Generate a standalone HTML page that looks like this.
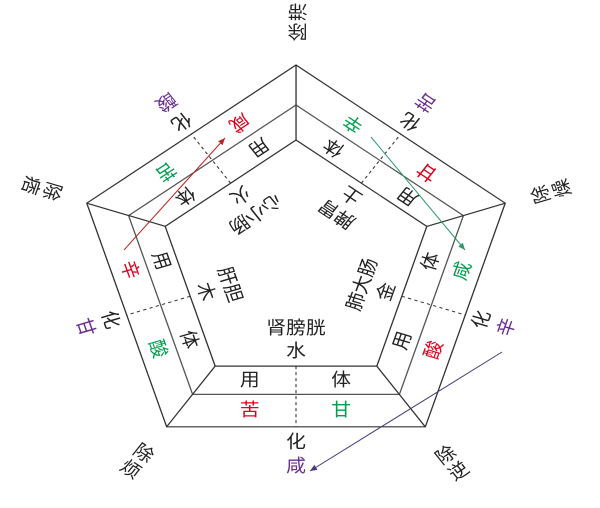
<!DOCTYPE html>
<html><head><meta charset="utf-8"><style>
html,body{margin:0;padding:0;background:#fff;}
svg{display:block;}
text{font-family:"Liberation Sans","Noto Sans CJK SC",sans-serif;font-size:18px;text-anchor:middle;dominant-baseline:central;fill:#222;}
.r{fill:#e0001b}.g{fill:#00a050}.p{fill:#6a2c91}
</style></head><body>
<svg width="600" height="508" viewBox="0 0 600 508" xmlns="http://www.w3.org/2000/svg">
<defs>
<marker id="ar" markerWidth="8" markerHeight="8" refX="7" refY="4" orient="auto" markerUnits="userSpaceOnUse"><path d="M0,1 L7,4 L0,7 z" fill="#b22"/></marker>
<marker id="ag" markerWidth="8" markerHeight="8" refX="7" refY="4" orient="auto" markerUnits="userSpaceOnUse"><path d="M0,1 L7,4 L0,7 z" fill="#2a9a6a"/></marker>
<marker id="ap" markerWidth="8" markerHeight="8" refX="7" refY="4" orient="auto" markerUnits="userSpaceOnUse"><path d="M0,1 L7,4 L0,7 z" fill="#4a3a7a"/></marker>
</defs>
<g transform="translate(296,0) scale(1.1,1) translate(-296,0)">
<g fill="none" stroke="#333" stroke-width="1.2">
<polygon points="296,65 486.2,203.2 413.6,426.8 178.4,426.8 105.8,203.2"/>
<polygon points="296,105 448.2,215.6 390,394.4 202,394.4 143.8,215.6" stroke="#555"/>
<polygon points="296,140 414.9,226.4 369.5,366.1 222.5,366.1 177.1,226.4"/>
</g>

<g>
<line x1="178.4" y1="426.8" x2="222.5" y2="366.1" stroke="#333" stroke-width="1.2"/>
<line x1="296" y1="366.1" x2="296" y2="426.8" stroke="#333" stroke-width="1" stroke-dasharray="3,3"/>
<text x="254" y="381">用</text><text x="337" y="381">体</text>
<text x="254" y="411" class="r">苦</text><text x="337" y="411" class="g">甘</text>
<text x="296" y="329">肾膀胱</text><text x="296" y="352">水</text>
<text x="296" y="443">化</text><text x="296" y="467" class="p">咸</text>
<g transform="translate(151,462) rotate(36)"><text y="-10">除</text><text y="10">烦</text></g>
</g>
<g transform="rotate(72,296,265)">
<line x1="178.4" y1="426.8" x2="222.5" y2="366.1" stroke="#333" stroke-width="1.2"/>
<line x1="296" y1="366.1" x2="296" y2="426.8" stroke="#333" stroke-width="1" stroke-dasharray="3,3"/>
<text x="254" y="381">用</text><text x="337" y="381">体</text>
<text x="254" y="411" class="r">辛</text><text x="337" y="411" class="g">酸</text>
<text x="296" y="329">肝胆</text><text x="296" y="352">木</text>
<text x="296" y="443">化</text><text x="296" y="467" class="p">甘</text>
<g transform="translate(151,462) rotate(36)"><text y="-10">除</text><text y="10">痞</text></g>
</g>
<g transform="rotate(144,296,265)">
<line x1="178.4" y1="426.8" x2="222.5" y2="366.1" stroke="#333" stroke-width="1.2"/>
<line x1="296" y1="366.1" x2="296" y2="426.8" stroke="#333" stroke-width="1" stroke-dasharray="3,3"/>
<text x="254" y="381">用</text><text x="337" y="381">体</text>
<text x="254" y="411" class="r">咸</text><text x="337" y="411" class="g">苦</text>
<text x="296" y="329">心小肠</text><text x="296" y="352">火</text>
<text x="296" y="443">化</text><text x="296" y="467" class="p">酸</text>
<g transform="translate(151,462) rotate(36)"><text y="-10">除</text><text y="10">滞</text></g>
</g>
<g transform="rotate(216,296,265)">
<line x1="178.4" y1="426.8" x2="222.5" y2="366.1" stroke="#333" stroke-width="1.2"/>
<line x1="296" y1="366.1" x2="296" y2="426.8" stroke="#333" stroke-width="1" stroke-dasharray="3,3"/>
<text x="254" y="381">用</text><text x="337" y="381">体</text>
<text x="254" y="411" class="r">甘</text><text x="337" y="411" class="g">辛</text>
<text x="296" y="329">脾胃</text><text x="296" y="352">土</text>
<text x="296" y="443">化</text><text x="296" y="467" class="p">苦</text>
<g transform="translate(151,462) rotate(36)"><text y="-10">除</text><text y="10">燥</text></g>
</g>
<g transform="rotate(288,296,265)">
<line x1="178.4" y1="426.8" x2="222.5" y2="366.1" stroke="#333" stroke-width="1.2"/>
<line x1="296" y1="366.1" x2="296" y2="426.8" stroke="#333" stroke-width="1" stroke-dasharray="3,3"/>
<text x="254" y="381">用</text><text x="337" y="381">体</text>
<text x="254" y="411" class="r">酸</text><text x="337" y="411" class="g">咸</text>
<text x="296" y="329">肺大肠</text><text x="296" y="352">金</text>
<text x="296" y="443">化</text><text x="296" y="467" class="p">辛</text>
<g transform="translate(151,462) rotate(36)"><text y="-10">除</text><text y="10">逆</text></g>
</g>
</g>

<line x1="124" y1="250" x2="225" y2="138" stroke="#b22" stroke-width="1" marker-end="url(#ar)"/>
<line x1="371" y1="137" x2="465" y2="250" stroke="#2a9a6a" stroke-width="1" marker-end="url(#ag)"/>
<line x1="502" y1="352" x2="310" y2="471" stroke="#4a3a7a" stroke-width="1" marker-end="url(#ap)"/>
</svg>
</body></html>
